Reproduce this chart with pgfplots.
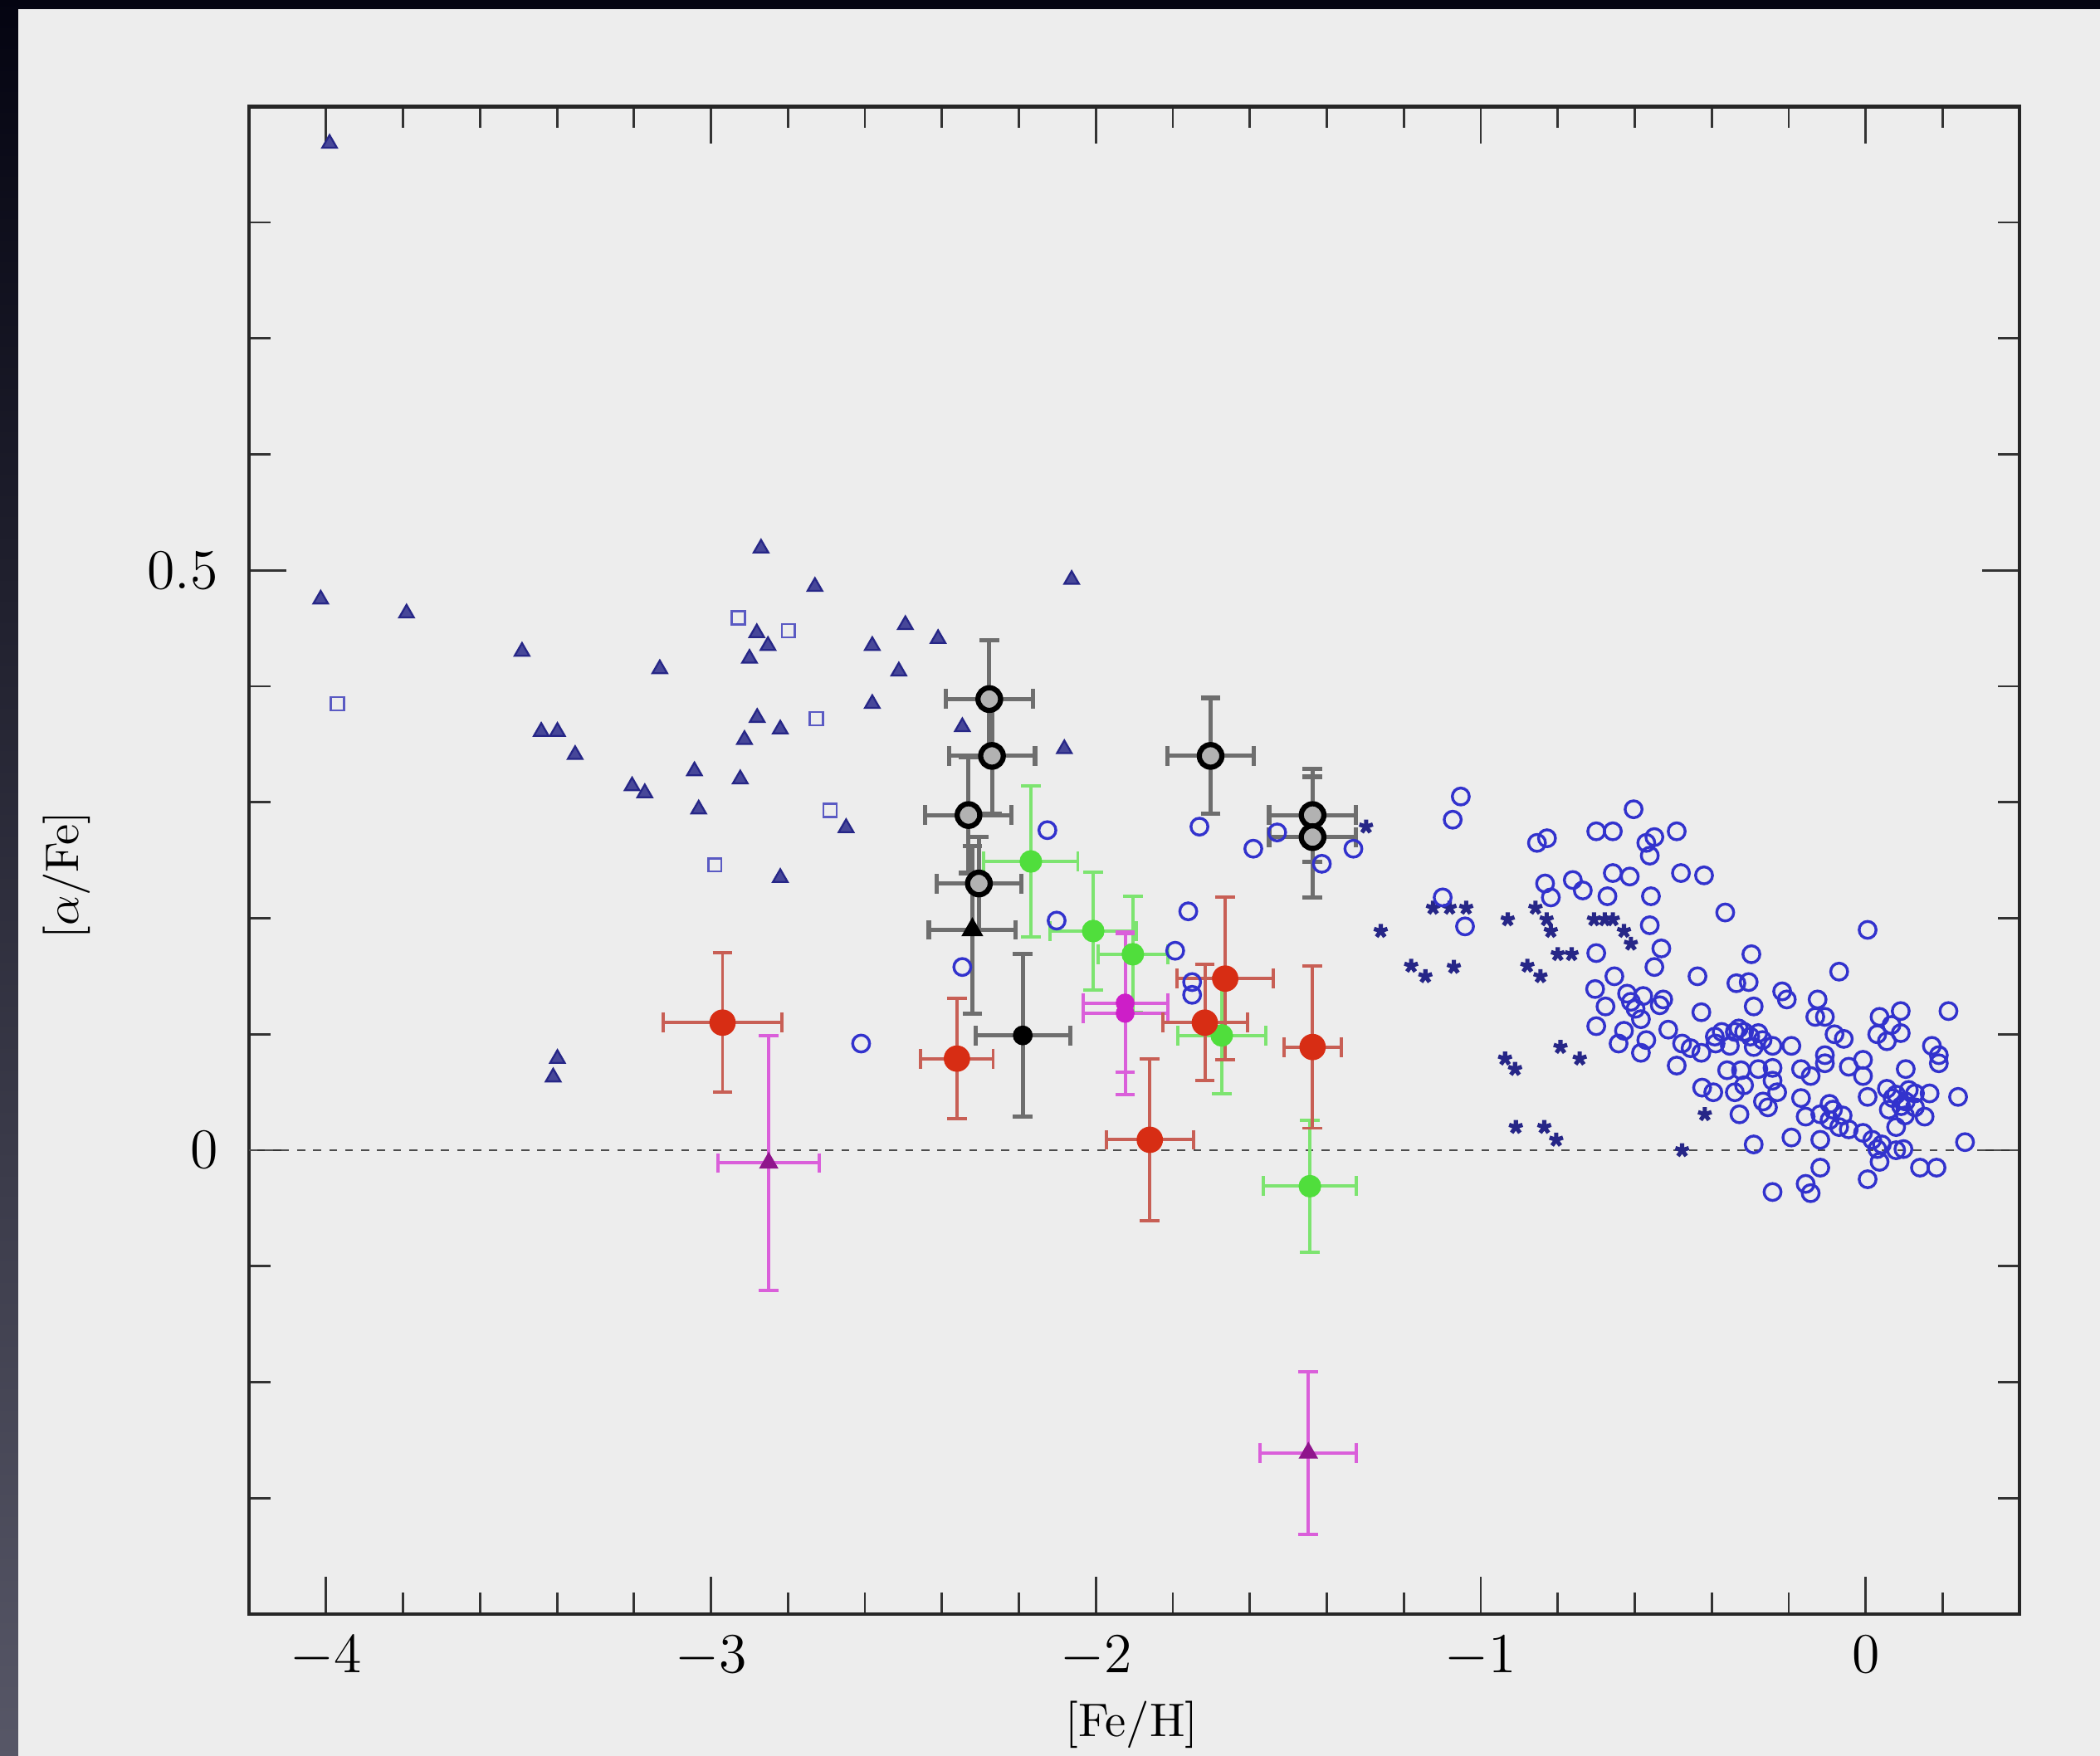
\documentclass[border=0pt]{standalone}
\usepackage{pgfplots}
\pgfplotsset{compat=1.18}
\definecolor{panel}{RGB}{237,237,237}
\definecolor{navy}{RGB}{38,38,135}
\definecolor{oblue}{RGB}{50,50,205}
\definecolor{sqblue}{RGB}{90,90,195}
\definecolor{rred}{RGB}{215,45,20}
\definecolor{rbar}{RGB}{200,95,85}
\definecolor{ggreen}{RGB}{80,222,60}
\definecolor{gbar}{RGB}{125,228,112}
\definecolor{mmag}{RGB}{205,30,200}
\definecolor{mbar}{RGB}{218,95,218}
\definecolor{bgray}{RGB}{110,110,110}
\begin{document}
\begin{tikzpicture}
\useasboundingbox (0,0) rectangle (156.8mm,131.1mm);
\shade[top color={rgb,255:red,3;green,3;blue,16}, bottom color={rgb,255:red,88;green,88;blue,104}] (-2mm,-2mm) rectangle (159mm,133mm);
\fill[panel] (1.36mm,-3mm) rectangle (160mm,130.42mm);
\begin{axis}[
  at={(18.6mm,10.55mm)}, anchor=south west,
  scale only axis, width=132.2mm, height=112.6mm,
  xmin=-4.2, xmax=0.4, ymin=-0.4, ymax=0.9,
  xtick={-4,-3,-2,-1,0},
  minor xtick={-3.8,-3.6,-3.4,-3.2,-2.8,-2.6,-2.4,-2.2,-1.8,-1.6,-1.4,-1.2,-0.8,-0.6,-0.4,-0.2,0.2},
  ytick={0,0.5},
  minor ytick={-0.3,-0.2,-0.1,0.1,0.2,0.3,0.4,0.6,0.7,0.8},
  major tick length=2.8mm, minor tick length=1.6mm,
  tick style={line width=0.5pt, black!80},
  axis line style={line width=0.8pt, black!85},
  tick label style={font=\fontsize{13}{15}\selectfont},
  xticklabel style={yshift=-0.4mm},
  yticklabel style={xshift=-1.1mm},
  label style={font=\fontsize{13}{15}\selectfont},
  xlabel={[Fe/H]},
  ylabel={$[\alpha/\mathrm{Fe}]$},
  every axis x label/.style={at={(axis description cs:0.4985,-0.0733)}, anchor=center},
  every axis y label/.style={at={(axis description cs:-0.103,0.49)}, anchor=center, rotate=90},
  clip=false,
]
% zero line
\addplot[black!70, line width=0.5pt, dash pattern=on 1.7pt off 1.7pt] coordinates {(-4.2,0) (0.4,0)};

% halo: filled triangles
\addplot[only marks, mark=triangle*, mark size=1.8pt, mark options={draw=navy, fill=navy!85, line width=0.4pt}] coordinates {
(-3.991,0.868) (-4.014,0.475) (-3.791,0.463) (-3.491,0.430) (-3.133,0.415)
(-2.870,0.519) (-2.730,0.486) (-2.881,0.446) (-2.852,0.435) (-2.900,0.424)
(-2.581,0.435) (-2.495,0.453) (-2.512,0.413) (-2.581,0.385) (-2.880,0.373)
(-2.820,0.363) (-2.913,0.354) (-3.441,0.361) (-3.399,0.361) (-3.353,0.341)
(-3.205,0.314) (-3.172,0.308) (-3.043,0.327) (-2.924,0.320) (-3.032,0.294)
(-2.649,0.278) (-2.820,0.235) (-3.399,0.079) (-3.410,0.063) (-2.063,0.492)
(-2.410,0.441) (-2.347,0.365) (-2.082,0.346)
};

% small open squares
\addplot[only marks, mark=square, mark size=1.4pt, mark options={draw=sqblue, line width=0.45pt}] coordinates {
(-3.971,0.385) (-2.929,0.459) (-2.799,0.448) (-2.726,0.372) (-2.691,0.293) (-2.990,0.246)
};

% thick disk: small filled stars
\addplot[only marks, mark=star, mark size=1.5pt, mark options={draw=navy, line width=0.9pt}] coordinates {
(-1.298,0.279) (-1.124,0.209) (-1.081,0.209) (-1.038,0.209) (-1.260,0.189)
(-0.930,0.199) (-0.858,0.209) (-0.829,0.199) (-0.818,0.189) (-0.706,0.199)
(-0.678,0.199) (-0.657,0.199) (-0.628,0.189) (-0.610,0.178) (-0.800,0.169)
(-0.764,0.169) (-1.181,0.159) (-1.144,0.150) (-1.070,0.158) (-0.879,0.159)
(-0.845,0.150) (-0.793,0.089) (-0.743,0.079) (-0.937,0.079) (-0.911,0.070)
(-0.418,0.031) (-0.477,0.000) (-0.909,0.020) (-0.835,0.020) (-0.804,0.009)
};

% open circles, middle region
\addplot[only marks, mark=o, mark size=1.8pt, mark options={draw=oblue, line width=0.6pt}] coordinates {
(-2.610,0.092) (-2.126,0.276) (-1.731,0.279) (-1.591,0.260) (-1.529,0.274)
(-1.413,0.247) (-1.331,0.260) (-1.760,0.206) (-1.794,0.172) (-1.750,0.145)
(-1.750,0.134) (-2.347,0.158) (-2.102,0.198)
};

% open circles, disk cluster
\addplot[only marks, mark=o, mark size=1.8pt, mark options={draw=oblue, line width=0.6pt}] coordinates {
(-1.052,0.305) (-1.073,0.285) (-0.854,0.265) (-0.828,0.269) (-0.700,0.275)
(-0.657,0.275) (-0.603,0.294) (-0.491,0.275) (-0.570,0.265) (-0.549,0.270)
(-0.561,0.254) (-0.480,0.239) (-0.420,0.237) (-0.657,0.239) (-0.613,0.236)
(-0.761,0.233) (-0.833,0.230) (-0.735,0.224) (-0.671,0.219) (-0.558,0.219)
(-0.818,0.218) (-0.365,0.205) (-1.099,0.218) (-1.041,0.193) (-0.561,0.194)
(-0.531,0.174) (-0.549,0.158) (-0.700,0.170) (-0.653,0.150) (-0.437,0.150)
(-0.336,0.144) (-0.703,0.139) (-0.620,0.135) (-0.578,0.133) (-0.526,0.130)
(-0.676,0.124) (-0.427,0.119) (-0.584,0.113) (-0.700,0.107) (-0.628,0.103)
(-0.513,0.104) (-0.642,0.092) (-0.570,0.095) (-0.584,0.084) (-0.477,0.092)
(-0.455,0.088) (-0.427,0.084) (-0.491,0.073) (-0.374,0.102) (-0.340,0.102)
(-0.390,0.092) (-0.353,0.090) (-0.360,0.069) (-0.324,0.069) (-0.425,0.054)
(-0.396,0.050) (-0.340,0.050)
(-0.610,0.128) (-0.598,0.122) (-0.392,0.098) (-0.535,0.125)
(0.005,0.190) (-0.297,0.169) (-0.069,0.154) (-0.304,0.145) (-0.217,0.137)
(-0.205,0.130) (-0.125,0.130) (-0.291,0.124) (0.091,0.120) (0.215,0.120)
(-0.131,0.115) (-0.106,0.115) (0.036,0.115) (0.067,0.108) (-0.316,0.102)
(-0.279,0.101) (-0.081,0.100) (-0.057,0.096) (0.030,0.100) (0.055,0.094)
(0.091,0.101) (0.172,0.090) (-0.291,0.089) (-0.242,0.090) (-0.193,0.090)
(-0.106,0.082) (-0.007,0.078) (0.190,0.082) (-0.279,0.070) (-0.242,0.071)
(-0.168,0.070) (-0.143,0.064) (-0.106,0.075) (-0.044,0.072) (-0.007,0.064)
(0.104,0.070) (0.190,0.075) (-0.316,0.056) (-0.242,0.060) (-0.230,0.050)
(-0.267,0.042) (-0.168,0.045) (-0.094,0.040) (0.005,0.046) (0.055,0.053)
(0.079,0.048) (0.104,0.042) (0.128,0.037) (0.128,0.049) (0.166,0.049)
(0.240,0.046) (-0.328,0.031) (-0.254,0.037) (-0.156,0.029) (-0.118,0.031)
(-0.094,0.026) (-0.069,0.020) (-0.044,0.018) (-0.007,0.015) (0.017,0.009)
(0.042,0.005) (0.030,0.001) (0.079,0.000) (0.098,0.001) (0.079,0.020)
(0.153,0.029) (-0.193,0.011) (-0.118,0.009) (-0.291,0.005) (0.258,0.007)
(-0.118,-0.015) (0.036,-0.010) (0.141,-0.015) (0.184,-0.015) (0.005,-0.025)
(-0.242,-0.036) (-0.156,-0.029) (-0.143,-0.037)
(-0.330,0.105) (-0.300,0.098) (-0.268,0.095) (0.070,0.045) (0.092,0.038)
(0.112,0.052) (0.060,0.035) (0.102,0.030) (-0.085,0.035) (-0.060,0.030)
};

% black open circles with grey error bars
\addplot[only marks, mark=*, mark size=2.4pt, mark options={draw=black, fill=black!30, line width=1.1pt},
  error bars/.cd, x dir=both, x explicit, y dir=both, y explicit,
  error bar style={bgray, line width=0.9pt},
  error mark options={bgray, rotate=90, mark size=2.1pt, line width=0.9pt}]
coordinates {
(-2.277,0.389) +- (0.113,0.051)
(-2.270,0.340) +- (0.112,0.050)
(-2.331,0.289) +- (0.112,0.050)
(-2.304,0.230) +- (0.110,0.040)
(-1.702,0.340) +- (0.113,0.050)
(-1.437,0.289) +- (0.113,0.040)
(-1.437,0.270) +- (0.113,0.052)
};
% black triangle and black dot
\addplot[only marks, mark=triangle*, mark size=2.3pt, mark options={draw=black, fill=black},
  error bars/.cd, x dir=both, x explicit, y dir=both, y explicit,
  error bar style={bgray, line width=0.9pt},
  error mark options={bgray, rotate=90, mark size=2.1pt, line width=0.9pt}]
coordinates {(-2.321,0.190) +- (0.113,0.072)};
\addplot[only marks, mark=*, mark size=1.9pt, mark options={draw=black, fill=black},
  error bars/.cd, x dir=both, x explicit, y dir=both, y explicit,
  error bar style={bgray, line width=0.9pt},
  error mark options={bgray, rotate=90, mark size=2.1pt, line width=0.9pt}]
coordinates {(-2.190,0.099) +- (0.123,0.070)};

% green
\addplot[only marks, mark=*, mark size=2.2pt, mark options={draw=ggreen, fill=ggreen},
  error bars/.cd, x dir=both, x explicit, y dir=both, y explicit,
  error bar style={gbar, line width=0.7pt},
  error mark options={gbar, rotate=90, mark size=2.1pt, line width=0.7pt}]
coordinates {
(-2.169,0.249) +- (0.122,0.065)
(-2.007,0.189) +- (0.113,0.051)
(-1.904,0.169) +- (0.090,0.050)
(-1.673,0.099) +- (0.115,0.050)
(-1.444,-0.031) +- (0.120,0.057)
};

% magenta
\addplot[only marks, mark=*, mark size=1.8pt, mark options={draw=mmag, fill=mmag},
  error bars/.cd, x dir=both, x explicit, y dir=both, y explicit,
  error bar style={mbar, line width=0.7pt},
  error mark options={mbar, rotate=90, mark size=2.1pt, line width=0.7pt}]
coordinates {
(-1.924,0.127) +- (0.110,0.060)
(-1.924,0.118) +- (0.110,0.070)
};
\addplot[only marks, mark=triangle*, mark size=2.0pt, mark options={draw=mmag!70!black, fill=mmag!70!black},
  error bars/.cd, x dir=both, x explicit, y dir=both, y explicit,
  error bar style={mbar, line width=0.7pt},
  error mark options={mbar, rotate=90, mark size=2.1pt, line width=0.7pt}]
coordinates {
(-2.850,-0.011) +- (0.132,0.110)
(-1.448,-0.261) +- (0.125,0.070)
};

% red
\addplot[only marks, mark=*, mark size=2.6pt, mark options={draw=rred, fill=rred},
  error bars/.cd, x dir=both, x explicit, y dir=both, y explicit,
  error bar style={rbar, line width=0.7pt},
  error mark options={rbar, rotate=90, mark size=2.1pt, line width=0.7pt}]
coordinates {
(-2.970,0.110) +- (0.155,0.060)
(-2.361,0.079) +- (0.094,0.052)
(-1.860,0.009) +- (0.113,0.070)
(-1.664,0.148) +- (0.125,0.070)
(-1.717,0.110) +- (0.110,0.050)
(-1.437,0.089) +- (0.075,0.070)
};
\end{axis}
\end{tikzpicture}
\end{document}
